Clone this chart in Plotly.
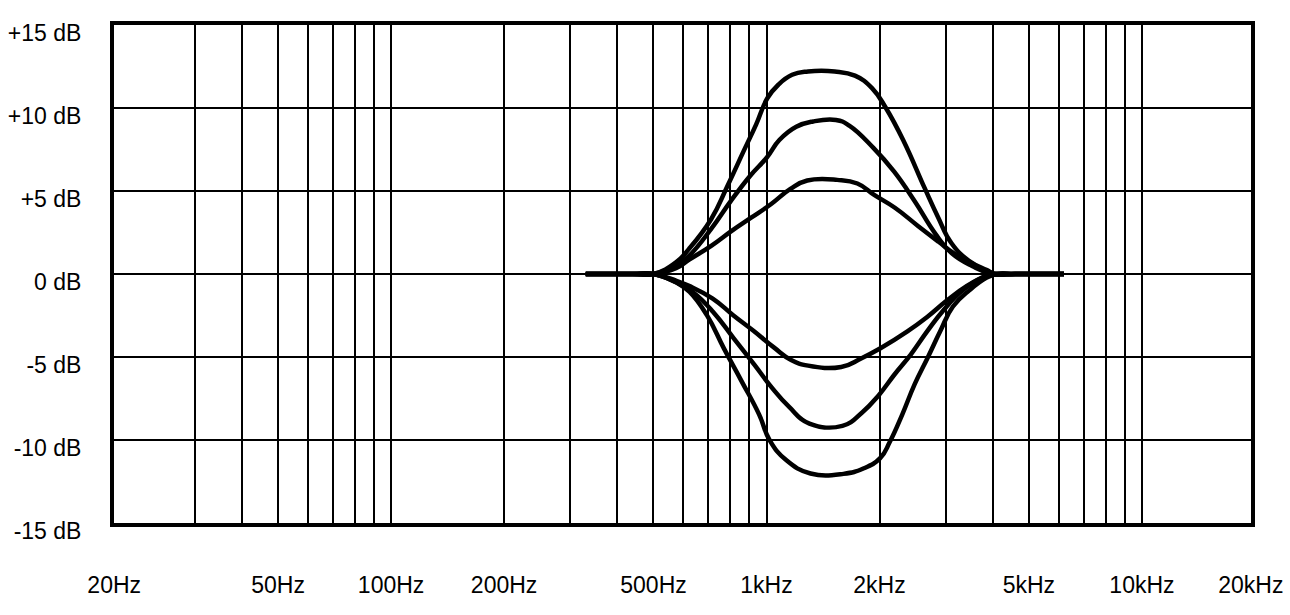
import math
import plotly.graph_objects as go

# ---- axis extents, grid and tick labels -------------------------------------
X_MIN_HZ = 18.3      # left edge of the frame (labelled 20Hz)
X_MAX_HZ = 19500     # right edge of the frame (labelled 20kHz)
GRID_HZ = [30, 40, 50, 60, 70, 80, 90, 100,
           200, 300, 400, 500, 600, 700, 800, 900, 1000,
           2000, 3000, 4000, 5000, 6000, 7000, 8000, 9000, 10000]
TICK_HZ = [X_MIN_HZ, 50, 100, 200, 500, 1000, 2000, 5000, 10000, X_MAX_HZ]
TICK_TEXT_X = ["20Hz", "50Hz", "100Hz", "200Hz", "500Hz",
               "1kHz", "2kHz", "5kHz", "10kHz", "20kHz"]
DB_TICKS = [-15, -10, -5, 0, 5, 10, 15]
DB_TEXT = ["-15 dB", "-10 dB", "-5 dB", "0 dB", "+5 dB", "+10 dB", "+15 dB"]

# ---- response curves (Hz, dB) -------------------------------------------------
boost_12_hz = [330, 440, 500, 574, 621, 712, 787, 869, 938, 1006, 1075, 1170, 1290,
               1520, 1720, 1910, 2080, 2320, 2635, 2860, 3110, 3460, 3850, 4100, 4600, 6200]
boost_12_db = [0, 0, 0, 0.7, 1.5, 3.3, 5.3, 7.4, 9.0, 10.6, 11.4, 12.0, 12.2,
               12.2, 11.95, 11.2, 10.0, 8.0, 5.2, 3.45, 1.85, 0.8, 0.25, 0, 0, 0]

boost_9_hz = [330, 440, 500, 574, 621, 713, 803, 905, 1002, 1082, 1200, 1331, 1531,
              1661, 1929, 2188, 2482, 2818, 3116, 3529, 4000, 4600, 6200]
boost_9_db = [0, 0, 0, 0.5, 1.08, 2.73, 4.39, 5.92, 7.02, 8.07, 8.87, 9.19, 9.28,
              8.94, 7.58, 6.16, 4.38, 2.42, 1.24, 0.48, 0, 0, 0]

boost_6_hz = [330, 440, 500, 574, 621, 714, 806, 910, 1027, 1158, 1284, 1543, 1746,
              1940, 2198, 2537, 2874, 3159, 3617, 4000, 4600, 6200]
boost_6_db = [0, 0, 0, 0.35, 0.85, 1.71, 2.58, 3.39, 4.2, 5.13, 5.63, 5.67, 5.45,
              4.75, 3.99, 2.88, 1.94, 1.24, 0.5, 0, 0, 0]

cut_6_hz = [330, 440, 500, 574, 624, 719, 815, 923, 1046, 1163, 1291, 1581, 1786,
            2017, 2373, 2679, 3022, 3410, 3851, 4100, 4600, 6200]
cut_6_db = [0, 0, 0, -0.4, -0.73, -1.48, -2.48, -3.42, -4.42, -5.18, -5.52, -5.6, -5.09,
            -4.46, -3.46, -2.59, -1.6, -0.73, -0.11, 0, 0, 0]

cut_9_hz = [330, 440, 500, 574, 636, 720, 817, 928, 1032, 1149, 1301, 1593, 1798,
            1991, 2190, 2425, 2684, 2953, 3330, 3756, 4100, 4600, 6200]
cut_9_db = [0, 0, 0, -0.5, -1.08, -2.27, -3.86, -5.46, -6.83, -8.01, -9.01, -9.15, -8.34,
            -7.3, -6.07, -4.84, -3.43, -2.21, -0.98, -0.23, 0, 0, 0]

cut_12_hz = [330, 440, 500, 574, 624, 695, 770, 858, 956, 1020, 1128, 1310, 1603,
             1811, 2008, 2131, 2299, 2480, 2693, 2906, 3138, 3475, 3851, 4100, 4600, 6200]
cut_12_db = [0, 0, 0, -0.5, -1.08, -2.51, -4.48, -6.45, -8.47, -10.02, -11.21, -12.02, -12.04,
             -11.72, -11.09, -10.11, -8.47, -6.65, -5.0, -3.42, -1.96, -0.97, -0.23, 0, 0, 0]

curves = [
    (boost_12_hz, boost_12_db),
    (boost_9_hz, boost_9_db),
    (boost_6_hz, boost_6_db),
    (cut_6_hz, cut_6_db),
    (cut_9_hz, cut_9_db),
    (cut_12_hz, cut_12_db),
]

FONT = "Liberation Sans, Arial, Helvetica, sans-serif"

fig = go.Figure()
for hz, db in curves:
    fig.add_trace(go.Scatter(
        x=hz, y=db, mode="lines",
        line=dict(color="black", width=4.5, shape="spline", smoothing=1.3),
        hoverinfo="x+y", showlegend=False,
    ))

pad = 0.0005
fig.update_layout(
    width=1290, height=615,
    margin=dict(l=114, r=39, t=25, b=92),
    paper_bgcolor="white", plot_bgcolor="white",
    font=dict(family=FONT, size=23, color="black"),
    showlegend=False,
    xaxis=dict(
        type="log",
        range=[math.log10(X_MIN_HZ) - pad, math.log10(X_MAX_HZ) + pad],
        tickmode="array", tickvals=TICK_HZ, ticktext=TICK_TEXT_X,
        ticks="", ticklabelstandoff=38,
        showgrid=True, gridcolor="black", gridwidth=2,
        minor=dict(tickmode="array", tickvals=GRID_HZ, ticks="",
                   showgrid=True, gridcolor="black", gridwidth=2),
        showline=True, mirror=True, linecolor="black", linewidth=4,
        zeroline=False, fixedrange=True, automargin=False,
    ),
    yaxis=dict(
        range=[-15, 15],
        tickmode="array", tickvals=DB_TICKS, ticktext=DB_TEXT,
        ticks="", ticklabelstandoff=24, ticklabelshift=8,
        showgrid=True, gridcolor="black", gridwidth=2,
        zeroline=False,
        showline=True, mirror=True, linecolor="black", linewidth=4,
        fixedrange=True, automargin=False,
    ),
)

fig.write_html("out.html")
